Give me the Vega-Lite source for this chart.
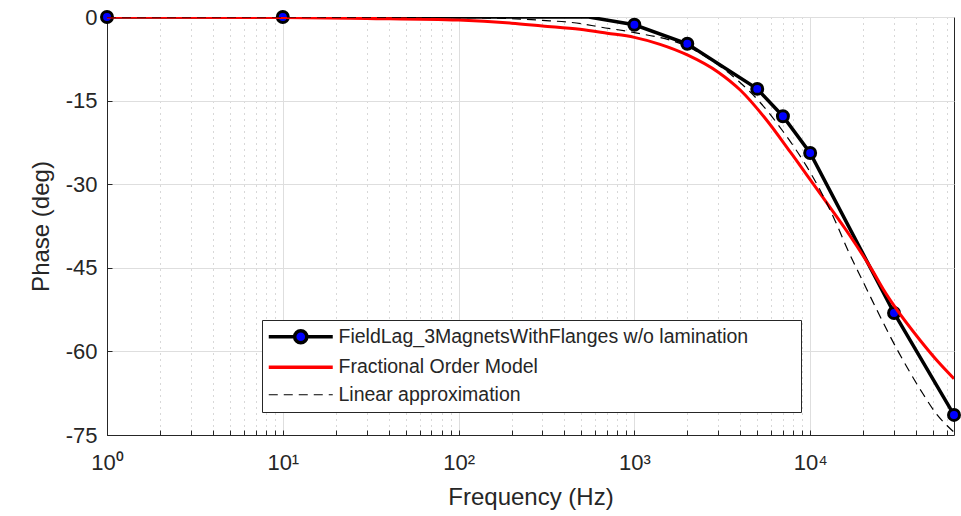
{
  "$schema": "https://vega.github.io/schema/vega-lite/v6.json",
  "autosize": {"type": "none"},
  "width": 847,
  "height": 418,
  "padding": {"left": 107, "top": 17, "right": 7, "bottom": 81},
  "background": "white",
  "config": {
    "font": "Liberation Sans",
    "view": {"stroke": "#262626", "strokeWidth": 1}
  },
  "data": {
    "values": [
      {"series": "FieldLag_3MagnetsWithFlanges w/o lamination", "f": 1, "phase": 0},
      {"series": "FieldLag_3MagnetsWithFlanges w/o lamination", "f": 10, "phase": 0},
      {"series": "FieldLag_3MagnetsWithFlanges w/o lamination", "f": 550, "phase": 0},
      {"series": "FieldLag_3MagnetsWithFlanges w/o lamination", "f": 1000, "phase": -1.4},
      {"series": "FieldLag_3MagnetsWithFlanges w/o lamination", "f": 2000, "phase": -4.8},
      {"series": "FieldLag_3MagnetsWithFlanges w/o lamination", "f": 5000, "phase": -12.9},
      {"series": "FieldLag_3MagnetsWithFlanges w/o lamination", "f": 7000, "phase": -17.8},
      {"series": "FieldLag_3MagnetsWithFlanges w/o lamination", "f": 10000, "phase": -24.4},
      {"series": "FieldLag_3MagnetsWithFlanges w/o lamination", "f": 30000, "phase": -53.1},
      {"series": "FieldLag_3MagnetsWithFlanges w/o lamination", "f": 65800, "phase": -71.4},
      {"series": "Fractional Order Model", "f": 1, "phase": 0},
      {"series": "Fractional Order Model", "f": 10, "phase": -0.08},
      {"series": "Fractional Order Model", "f": 30, "phase": -0.25},
      {"series": "Fractional Order Model", "f": 100, "phase": -0.55},
      {"series": "Fractional Order Model", "f": 200, "phase": -1.1},
      {"series": "Fractional Order Model", "f": 300, "phase": -1.6},
      {"series": "Fractional Order Model", "f": 490, "phase": -2.2},
      {"series": "Fractional Order Model", "f": 700, "phase": -2.9},
      {"series": "Fractional Order Model", "f": 1000, "phase": -3.65},
      {"series": "Fractional Order Model", "f": 1400, "phase": -4.9},
      {"series": "Fractional Order Model", "f": 2000, "phase": -6.8},
      {"series": "Fractional Order Model", "f": 3000, "phase": -9.9},
      {"series": "Fractional Order Model", "f": 4000, "phase": -13.1},
      {"series": "Fractional Order Model", "f": 5460, "phase": -17.9},
      {"series": "Fractional Order Model", "f": 7780, "phase": -24.4},
      {"series": "Fractional Order Model", "f": 10000, "phase": -29.2},
      {"series": "Fractional Order Model", "f": 13000, "phase": -34.2},
      {"series": "Fractional Order Model", "f": 16800, "phase": -39.2},
      {"series": "Fractional Order Model", "f": 22700, "phase": -45.6},
      {"series": "Fractional Order Model", "f": 26000, "phase": -48.8},
      {"series": "Fractional Order Model", "f": 30000, "phase": -51.8},
      {"series": "Fractional Order Model", "f": 42200, "phase": -58.0},
      {"series": "Fractional Order Model", "f": 52500, "phase": -61.6},
      {"series": "Fractional Order Model", "f": 65800, "phase": -64.9},
      {"series": "Linear approximation", "f": 1, "phase": 0},
      {"series": "Linear approximation", "f": 10, "phase": 0},
      {"series": "Linear approximation", "f": 100, "phase": -0.1},
      {"series": "Linear approximation", "f": 300, "phase": -0.6},
      {"series": "Linear approximation", "f": 500, "phase": -1.2},
      {"series": "Linear approximation", "f": 640, "phase": -1.8},
      {"series": "Linear approximation", "f": 1000, "phase": -2.8},
      {"series": "Linear approximation", "f": 2000, "phase": -5.3},
      {"series": "Linear approximation", "f": 2600, "phase": -7.3},
      {"series": "Linear approximation", "f": 3850, "phase": -11.3},
      {"series": "Linear approximation", "f": 5180, "phase": -15.3},
      {"series": "Linear approximation", "f": 7000, "phase": -20.5},
      {"series": "Linear approximation", "f": 9590, "phase": -26.9},
      {"series": "Linear approximation", "f": 11370, "phase": -31.0},
      {"series": "Linear approximation", "f": 14200, "phase": -37.3},
      {"series": "Linear approximation", "f": 16200, "phase": -41.5},
      {"series": "Linear approximation", "f": 20000, "phase": -47.5},
      {"series": "Linear approximation", "f": 24000, "phase": -52.6},
      {"series": "Linear approximation", "f": 28400, "phase": -57.2},
      {"series": "Linear approximation", "f": 35500, "phase": -62.8},
      {"series": "Linear approximation", "f": 43800, "phase": -67.6},
      {"series": "Linear approximation", "f": 52500, "phase": -71.3},
      {"series": "Linear approximation", "f": 60000, "phase": -73.3},
      {"series": "Linear approximation", "f": 65800, "phase": -74.5}
    ]
  },
  "encoding": {
    "x": {
      "field": "f", "type": "quantitative",
      "scale": {"type": "log", "domain": [1, 65800], "nice": false},
      "axis": {
        "title": "Frequency (Hz)",
        "titleFontSize": 24, "titleFontWeight": "normal", "titleColor": "#262626", "titlePadding": 12,
        "values": [1,2,3,4,5,6,7,8,9,10,20,30,40,50,60,70,80,90,100,200,300,400,500,600,700,800,900,1000,2000,3000,4000,5000,6000,7000,8000,9000,10000,20000,30000,40000,50000,60000],
        "labelExpr": "abs(log(datum.value)/LN10 - round(log(datum.value)/LN10)) < 1e-6 ? '10' + ['⁰','¹','²','³','⁴'][round(log(datum.value)/LN10)] : ''",
        "labelFontSize": 22, "labelColor": "#262626", "labelPadding": 22, "labelFlush": false, "labelOverlap": false,
        "tickSize": -5, "tickColor": "#262626", "domainColor": "#262626",
        "grid": true,
        "gridColor": {"condition": {"test": "abs(log(datum.value)/LN10 - round(log(datum.value)/LN10)) < 1e-6", "value": "#dedede"}, "value": "#b0b0b0"},
        "gridDash": {"condition": {"test": "abs(log(datum.value)/LN10 - round(log(datum.value)/LN10)) < 1e-6", "value": []}, "value": [1, 5]}
      }
    },
    "y": {
      "field": "phase", "type": "quantitative",
      "scale": {"domain": [-75, 0], "nice": false},
      "axis": {
        "title": "Phase (deg)",
        "titleFontSize": 24, "titleFontWeight": "normal", "titleColor": "#262626", "titlePadding": 12,
        "values": [-75, -60, -45, -30, -15, 0],
        "labelExpr": "datum.value < 0 ? '-' + abs(datum.value) : '' + datum.value",
        "labelFontSize": 22, "labelColor": "#262626", "labelPadding": 15, "labelFlush": false,
        "tickSize": -5, "tickColor": "#262626", "domainColor": "#262626",
        "grid": true, "gridColor": "#dedede"
      }
    },
    "color": {
      "field": "series", "type": "nominal",
      "scale": {
        "domain": ["FieldLag_3MagnetsWithFlanges w/o lamination", "Fractional Order Model", "Linear approximation"],
        "range": ["#000000", "#ff0000", "#000000"]
      },
      "legend": {
        "title": null,
        "orient": "none", "legendX": 155, "legendY": 303,
        "direction": "vertical",
        "fillColor": "white", "strokeColor": "#262626", "padding": 7,
        "labelFontSize": 19.5, "labelColor": "#262626", "labelLimit": 900,
        "labelExpr": "datum.label + '\u2800\u2800\u2800'",
        "symbolOffset": 22, "labelOffset": 28,
        "rowPadding": 6.5,
        "encode": {
          "symbols": {
            "update": {
              "size": {"value": 4096},
              "shape": {"signal": "datum.value === 'FieldLag_3MagnetsWithFlanges w/o lamination' ? 'M-1,0H-0.19M0.19,0H1M0.19,0A0.19,0.19,0,1,1,-0.19,0A0.19,0.19,0,1,1,0.19,0' : 'stroke'"},
              "fill": {"signal": "datum.value === 'FieldLag_3MagnetsWithFlanges w/o lamination' ? '#0000ff' : 'transparent'"},
              "stroke": {"signal": "datum.value === 'Fractional Order Model' ? '#ff0000' : '#000000'"},
              "strokeWidth": {"signal": "datum.value === 'Linear approximation' ? 1.2 : 3.5"},
              "strokeDash": {"signal": "datum.value === 'Linear approximation' ? [9, 6] : []"},
              "opacity": {"value": 1}
            }
          }
        }
      }
    }
  },
  "layer": [
    {
      "transform": [{"filter": "datum.series === 'FieldLag_3MagnetsWithFlanges w/o lamination'"}],
      "mark": {"type": "line", "strokeWidth": 3.5, "clip": true}
    },
    {
      "transform": [{"filter": "datum.series === 'FieldLag_3MagnetsWithFlanges w/o lamination' && datum.f !== 550"}],
      "mark": {"type": "point", "filled": true, "fill": "#0000ff", "stroke": "#000000", "strokeWidth": 3, "size": 120, "opacity": 1, "fillOpacity": 1, "strokeOpacity": 1},
      "encoding": {"color": {"value": "#0000ff"}}
    },
    {
      "transform": [{"filter": "datum.series === 'Fractional Order Model'"}],
      "mark": {"type": "line", "strokeWidth": 3, "interpolate": "monotone", "clip": true}
    },
    {
      "transform": [{"filter": "datum.series === 'Linear approximation'"}],
      "mark": {"type": "line", "strokeWidth": 1.2, "strokeDash": [9, 6], "interpolate": "monotone", "clip": true}
    }
  ]
}
